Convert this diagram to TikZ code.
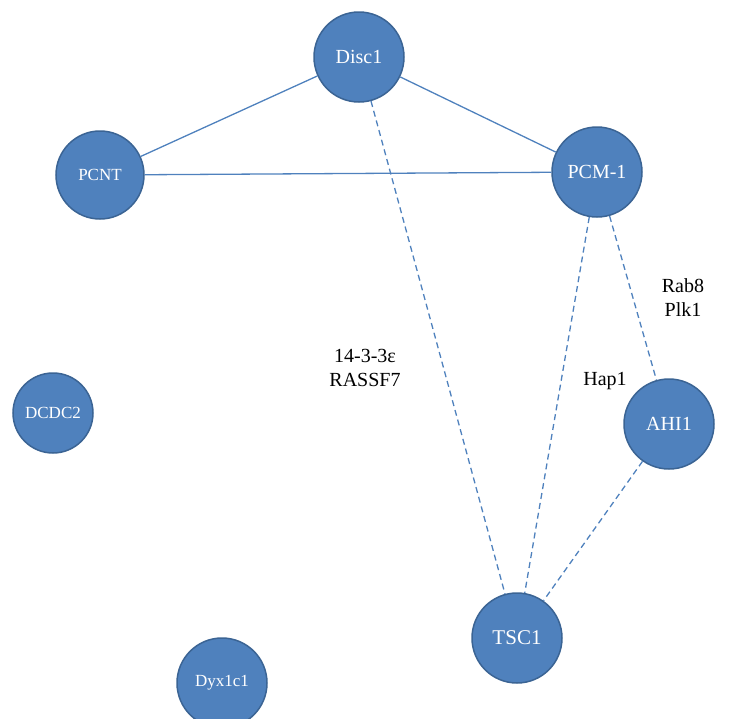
\documentclass[tikz,border=0pt]{standalone}
\usepackage{fontspec}
\setmainfont{Liberation Serif}
\definecolor{nodefill}{HTML}{4F81BD}
\definecolor{nodeedge}{HTML}{3B6494}
\begin{document}
\begin{tikzpicture}[x=1pt,y=-1pt,
  prot/.style={circle,fill=nodefill,draw=nodeedge,line width=1.5pt,text=white,inner sep=0pt,font=\fontsize{17}{17}\selectfont},
  link/.style={draw=nodefill,line width=1.3pt},
  dlink/.style={link,dash pattern=on 6pt off 4pt},
  lab/.style={font=\fontsize{20}{24}\selectfont,align=center}]
\useasboundingbox (0,0) rectangle (731,718);
\node[prot,minimum size=90pt] (disc) at (359,57) {\fontsize{20}{20}\selectfont Disc1};
\node[prot,minimum size=88pt] (pcnt) at (100,175) {PCNT};
\node[prot,minimum size=90pt] (pcm) at (597,172) {\fontsize{20}{20}\selectfont PCM-1};
\node[prot,minimum size=80pt] (dcdc) at (53,413) {DCDC2};
\node[prot,minimum size=90pt] (ahi) at (669,424) {\fontsize{20}{20}\selectfont AHI1};
\node[prot,minimum size=90pt] (tsc) at (517,638) {\fontsize{21}{21}\selectfont TSC1};
\node[prot,minimum size=90pt] (dyx) at (222,683) {Dyx1c1};
\begin{scope}[on background layer/.style={}]
\end{scope}
\draw[link] (disc) -- (pcnt);
\draw[link] (disc) -- (pcm);
\draw[link] (pcnt) -- (pcm);
\draw[dlink] (disc) -- (tsc);
\draw[dlink] (pcm) -- (tsc);
\draw[dlink] (pcm) -- (ahi);
\draw[dlink] (ahi) -- (tsc);
\node[lab] (l1) at (365,368) {14-3-3ε\\RASSF7};
\node[lab] (l2) at (683,298) {Rab8\\Plk1};
\node[lab] (l3) at (605,381) {Hap1};
\end{tikzpicture}
\end{document}
